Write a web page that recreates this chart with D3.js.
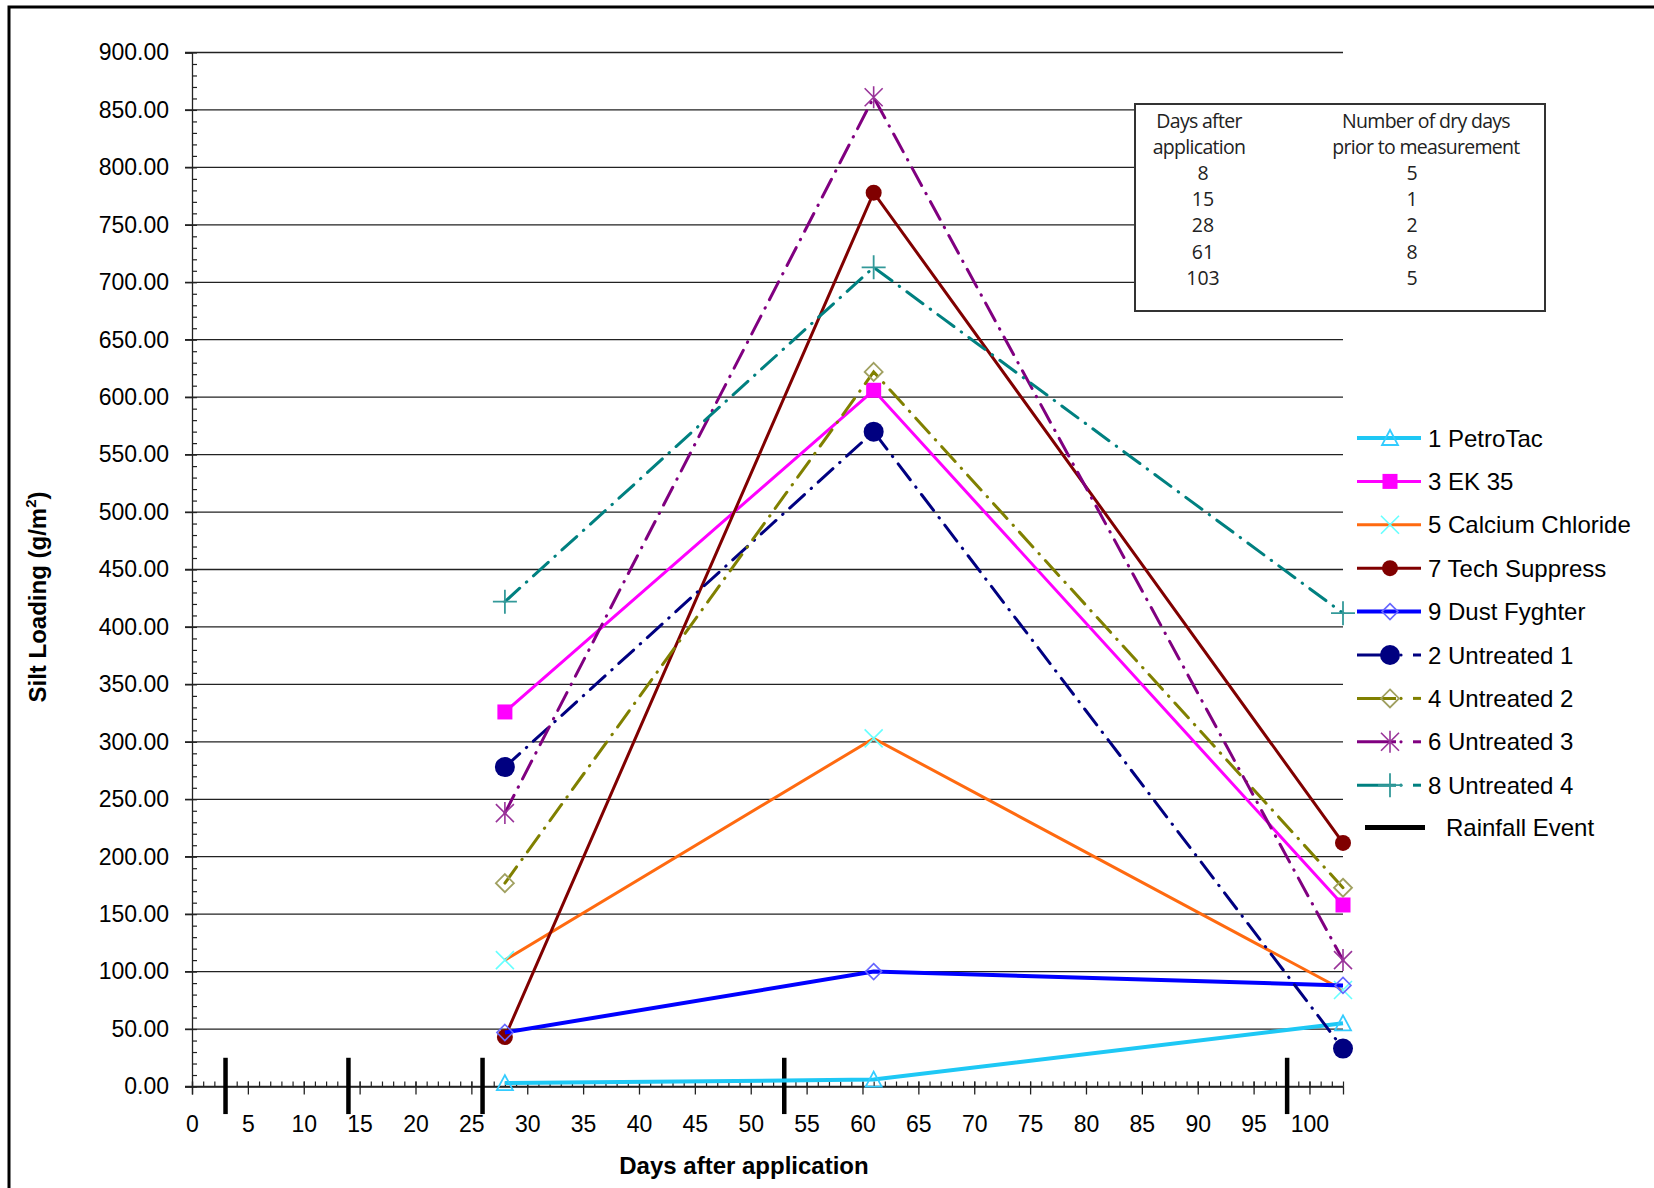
<!DOCTYPE html>
<html><head><meta charset="utf-8">
<script src="https://cdn.jsdelivr.net/npm/d3@7"></script>
<style>body{margin:0;background:#fff}svg{display:block}text{font-family:"Liberation Sans",Arial,sans-serif}</style>
</head><body>
<svg id="c" width="1654" height="1188"></svg>
<script>
// ---- data ----
const days = [28, 61, 103];
const seriesNames = ["1 PetroTac","3 EK 35","5 Calcium Chloride","7 Tech Suppress","9 Dust Fyghter","2 Untreated 1","4 Untreated 2","6 Untreated 3","8 Untreated 4"];
const petroTac     = [3, 6, 55];
const ek35         = [326, 606, 158];
const calcium      = [110, 303, 84];
const techSuppress = [43, 778, 212];
const dustFyghter  = [47, 100, 88];
const untreated1   = [278, 570, 33];
const untreated2   = [177, 622, 173];
const untreated3   = [238, 861, 110];
const untreated4   = [422, 713, 412];
const rainfallDays = [3, 14, 26, 53, 98];
const yTicks = d3.range(0, 901, 50);
const xTicks = d3.range(0, 101, 5);
const tableCol1 = ["8","15","28","61","103"];
const tableCol2 = ["5","1","2","8","5"];

const values = [petroTac, ek35, calcium, techSuppress, dustFyghter, untreated1, untreated2, untreated3, untreated4];
const styles = [
  {color:"#1EC8F5", w:4, dash:null, marker:"tri", mc:"#33CCFF"},
  {color:"#FF00FF", w:3, dash:null, marker:"sq", mc:"#FF00FF"},
  {color:"#FF6A10", w:3, dash:null, marker:"x", mc:"#66FFFF"},
  {color:"#800000", w:3, dash:null, marker:"circ", mc:"#800000", r:8},
  {color:"#0000FF", w:4, dash:null, marker:"dia", mc:"#6666FF"},
  {color:"#000080", w:3, dash:"20 9 0.5 9", marker:"circ", mc:"#000080", r:10},
  {color:"#808000", w:3, dash:"20 9 0.5 9", marker:"dia2", mc:"#A0A060"},
  {color:"#800080", w:3, dash:"20 9 0.5 9", marker:"ast", mc:"#993399"},
  {color:"#008080", w:3, dash:"20 9 0.5 9", marker:"plus", mc:"#339999"}
];

const svg = d3.select("#c");
const x = d3.scaleLinear().domain([0, 103]).range([192, 1343]);
const y = d3.scaleLinear().domain([0, 900]).range([1086.5, 52.5]);

// outer frame
svg.append("rect").attr("x",9).attr("y",7).attr("width",1700).attr("height",1300)
  .attr("fill","none").attr("stroke","#000").attr("stroke-width",3);

// gridlines
svg.append("g").selectAll("line").data(yTicks).join("line")
  .attr("x1",185).attr("x2",x(103)).attr("y1",d=>y(d)).attr("y2",d=>y(d))
  .attr("stroke","#222").attr("stroke-width",1.3);

// y axis
const yAxis = d3.axisLeft(y).tickValues(yTicks).tickSize(7).tickPadding(16).tickFormat(d3.format(".2f"));
const gy = svg.append("g").attr("transform",`translate(${x(0)},0)`).call(yAxis);
gy.select(".domain").attr("stroke","#222").attr("stroke-width",1.3);
gy.selectAll(".tick line").attr("stroke","#222").attr("stroke-width",1.3);
gy.selectAll("text").attr("font-size",23).attr("fill","#000");
const gyMinor = svg.append("g").attr("transform",`translate(${x(0)},0)`)
  .call(d3.axisRight(y).tickValues(d3.range(0,901,10)).tickSize(5).tickFormat(""));
gyMinor.select(".domain").remove();
gyMinor.selectAll(".tick line").attr("stroke","#222").attr("stroke-width",1.2);

// x axis
const gx = svg.append("g").attr("transform",`translate(0,${y(0)})`)
  .call(d3.axisBottom(x).tickValues(xTicks).tickSize(8).tickPadding(21).tickFormat(d3.format("d")));
gx.select(".domain").attr("stroke","#222").attr("stroke-width",1.3);
gx.selectAll(".tick line").attr("stroke","#222").attr("stroke-width",1.3).attr("y1",-5);
gx.selectAll("text").attr("font-size",23).attr("fill","#000");
const gxMinor = svg.append("g").attr("transform",`translate(0,${y(0)})`)
  .call(d3.axisTop(x).tickValues(d3.range(0,104,1)).tickSize(5).tickFormat(""));
gxMinor.select(".domain").remove();
gxMinor.selectAll(".tick line").attr("stroke","#222").attr("stroke-width",1.2);

// rainfall events
svg.append("g").selectAll("line").data(rainfallDays).join("line")
  .attr("x1",d=>x(d)).attr("x2",d=>x(d)).attr("y1",y(25)).attr("y2",y(-24))
  .attr("stroke","#000").attr("stroke-width",4.5);

// axis titles
svg.append("text").attr("x",744).attr("y",1174).attr("text-anchor","middle")
  .attr("font-size",24).attr("font-weight","bold").text("Days after application");
const yt = svg.append("text").attr("transform","translate(46,597) rotate(-90)").attr("text-anchor","middle")
  .attr("font-size",24).attr("font-weight","bold");
yt.append("tspan").text("Silt Loading (g/m");
yt.append("tspan").attr("font-size",15).attr("dy",-10).text("2");
yt.append("tspan").attr("dy",10).text(")");

// marker drawing
function marker(g, s, cx, cy) {
  const c = s.mc;
  switch (s.marker) {
    case "tri": g.append("path").attr("d",`M${cx},${cy-8}L${cx+8},${cy+7}L${cx-8},${cy+7}Z`).attr("fill","none").attr("stroke",c).attr("stroke-width",1.8); break;
    case "sq": g.append("rect").attr("x",cx-7.5).attr("y",cy-7.5).attr("width",15).attr("height",15).attr("fill",c); break;
    case "x": g.append("path").attr("d",`M${cx-9},${cy-9}L${cx+9},${cy+9}M${cx-9},${cy+9}L${cx+9},${cy-9}`).attr("stroke",c).attr("stroke-width",1.6); break;
    case "circ": g.append("circle").attr("cx",cx).attr("cy",cy).attr("r",s.r).attr("fill",c); break;
    case "dia": g.append("path").attr("d",`M${cx},${cy-8}L${cx+8},${cy}L${cx},${cy+8}L${cx-8},${cy}Z`).attr("fill","none").attr("stroke",c).attr("stroke-width",1.6); break;
    case "dia2": g.append("path").attr("d",`M${cx},${cy-9}L${cx+9},${cy}L${cx},${cy+9}L${cx-9},${cy}Z`).attr("fill","none").attr("stroke",c).attr("stroke-width",1.8); break;
    case "ast": g.append("path").attr("d",`M${cx-9},${cy-9}L${cx+9},${cy+9}M${cx-9},${cy+9}L${cx+9},${cy-9}M${cx},${cy-11}L${cx},${cy+11}`).attr("stroke",c).attr("stroke-width",1.6); break;
    case "plus": g.append("path").attr("d",`M${cx-12},${cy}L${cx+12},${cy}M${cx},${cy-12}L${cx},${cy+12}`).attr("stroke",c).attr("stroke-width",1.8); break;
  }
}

// series
const line = d3.line().x(d=>x(d[0])).y(d=>y(d[1]));
values.forEach((vals, i) => {
  const s = styles[i];
  const pts = days.map((d, j) => [d, vals[j]]);
  const g = svg.append("g");
  g.append("path").attr("d", line(pts)).attr("fill","none").attr("stroke",s.color)
    .attr("stroke-width",s.w).attr("stroke-linecap",s.dash?"round":"butt")
    .attr("stroke-dasharray",s.dash);
  pts.forEach(p => marker(g, s, x(p[0]), y(p[1])));
});

// legend
const legY0 = 438, legDy = 43.4;
seriesNames.forEach((name, i) => {
  const s = styles[i];
  const ly = legY0 + i*legDy;
  const g = svg.append("g");
  if (s.dash) {
    g.append("line").attr("x1",1357).attr("x2",1396).attr("y1",ly).attr("y2",ly).attr("stroke",s.color).attr("stroke-width",s.w);
    g.append("circle").attr("cx",1401).attr("cy",ly).attr("r",1.6).attr("fill",s.color);
    g.append("line").attr("x1",1413).attr("x2",1421).attr("y1",ly).attr("y2",ly).attr("stroke",s.color).attr("stroke-width",s.w);
  } else {
    g.append("line").attr("x1",1357).attr("x2",1421).attr("y1",ly).attr("y2",ly).attr("stroke",s.color).attr("stroke-width",s.w);
  }
  marker(g, s, 1390, ly);
  g.append("text").attr("x",1428).attr("y",ly).attr("dy","0.36em").attr("font-size",24).text(name);
});
const rly = legY0 + seriesNames.length*legDy - 1;
svg.append("line").attr("x1",1365).attr("x2",1425).attr("y1",rly).attr("y2",rly).attr("stroke","#000").attr("stroke-width",5);
svg.append("text").attr("x",1446).attr("y",rly).attr("dy","0.36em").attr("font-size",24).text("Rainfall Event");

// inset table
svg.append("rect").attr("x",1135).attr("y",104).attr("width",410).attr("height",207)
  .attr("fill","#fff").attr("stroke","#333").attr("stroke-width",2);
const tf = "'Open Sans', 'Noto Sans', sans-serif";
const tbl = svg.append("g").attr("font-size",19.5).attr("fill","#222");
[["Days after",1199,121],["application",1199,147.5],["Number of dry days",1426,121],["prior to measurement",1426,147.5]]
  .forEach(t => tbl.append("text").attr("x",t[1]).attr("y",t[2]).attr("dy","0.35em").attr("text-anchor","middle").style("font-family",tf).attr("letter-spacing",-0.7).text(t[0]));
tableCol1.forEach((t, i) => tbl.append("text").attr("x",1203).attr("y",173+i*26.3).attr("dy","0.35em").attr("text-anchor","middle").style("font-family",tf).text(t));
tableCol2.forEach((t, i) => tbl.append("text").attr("x",1412).attr("y",173+i*26.3).attr("dy","0.35em").attr("text-anchor","middle").style("font-family",tf).text(t));
</script>
</body></html>
